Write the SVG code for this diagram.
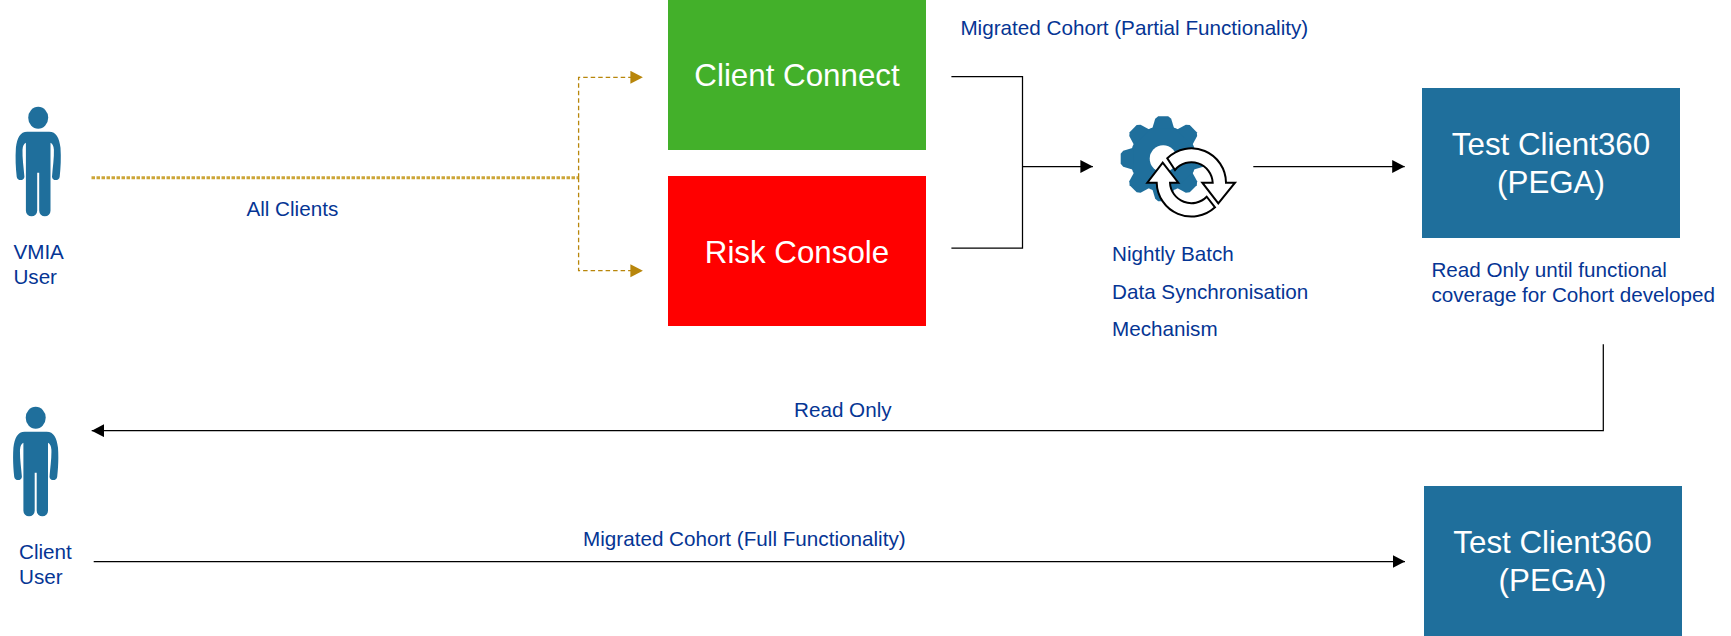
<svg xmlns="http://www.w3.org/2000/svg" width="1731" height="636" viewBox="0 0 1731 636">
<style>
text{font-family:"Liberation Sans",Arial,sans-serif}
.l{font-size:20.67px;fill:#053594}
.b{font-size:31.3px;fill:#fff;text-anchor:middle}
.blue{fill:#1F6F9C}
.c{fill:none;stroke:#000;stroke-width:1.25}
.g{fill:none;stroke:#B8860B;stroke-width:1.3;stroke-dasharray:4.5 3}
.gt{fill:none;stroke:#CDA638;stroke-width:3;stroke-dasharray:3.5 1.5}
.r{fill:#fff;stroke:#000;stroke-width:2;stroke-linejoin:miter}
</style>
<defs>
<marker id="ak" markerUnits="userSpaceOnUse" markerWidth="14" markerHeight="14" refX="12.5" refY="6.5" orient="auto"><path d="M0,0L12.5,6.5L0,13Z" fill="#000"/></marker>
<marker id="ag" markerUnits="userSpaceOnUse" markerWidth="14" markerHeight="14" refX="12.5" refY="6.5" orient="auto"><path d="M0,0L12.5,6.5L0,13Z" fill="#B8860B"/></marker>
<g id="person" class="blue">
<ellipse cx="0" cy="0" rx="10" ry="11"/>
<path d="M-11,14H11C18,14 21,20 22.3,30C23,40 22.5,50 21.5,59C21,63.5 14,63.5 13.8,59C14.5,50 16,40 15.7,32C15.3,28 14.5,26 12.3,25V93A5.6,5.6 0 0 1 1,93V55H-1V93A5.6,5.6 0 0 1 -12.3,93V25C-14.5,26 -15.3,28 -15.7,32C-16,40 -14.5,50 -13.8,59C-14,63.5 -21,63.5 -21.5,59C-22.5,50 -23,40 -22.3,30C-21,20 -18,14 -11,14Z"/>
</g>
<polygon id="tooth" points="-11,-30 -8,-40 -5,-42.5 5,-42.5 8,-40 11,-30"/>
</defs>
<g id="connectors">
<path class="gt" d="M91.5,177.7H578.6"/>
<path class="g" d="M578.6,177.7V77.3H642.9" marker-end="url(#ag)"/>
<path class="g" d="M578.6,177.7V270.7H642.9" marker-end="url(#ag)"/>
<path class="c" d="M951.4,76.5H1022.5V248H951.4"/>
<path class="c" d="M1022.5,166.5H1092.9" marker-end="url(#ak)"/>
<path class="c" d="M1253.3,166.5H1404.7" marker-end="url(#ak)"/>
<path class="c" d="M1603.3,344.3V430.7H91.7" marker-end="url(#ak)"/>
<path class="c" d="M93.7,561.5H1405" marker-end="url(#ak)"/>
</g>
<g id="vmia-user">
<use href="#person" x="38.2" y="117.7"/>
<text class="l" x="13.4" y="259">VMIA</text>
<text class="l" x="13.4" y="284">User</text>
</g>
<g id="client-user">
<use href="#person" x="35.7" y="417.7"/>
<text class="l" x="19" y="559">Client</text>
<text class="l" x="19" y="584">User</text>
</g>
<g id="client-connect">
<rect x="668" y="0" width="258" height="150" fill="#43B02A"/>
<text class="b" x="797" y="86.3">Client Connect</text>
</g>
<g id="risk-console">
<rect x="668" y="176" width="258" height="150" fill="#FF0000"/>
<text class="b" x="797" y="263">Risk Console</text>
</g>
<g id="batch">
<g class="blue" transform="translate(1163.2,158.7)">
<circle r="33"/>
<use href="#tooth"/>
<use href="#tooth" transform="rotate(45)"/>
<use href="#tooth" transform="rotate(90)"/>
<use href="#tooth" transform="rotate(135)"/>
<use href="#tooth" transform="rotate(180)"/>
<use href="#tooth" transform="rotate(225)"/>
<use href="#tooth" transform="rotate(270)"/>
<use href="#tooth" transform="rotate(315)"/>
<circle r="13.5" fill="#fff"/>
</g>
<path class="r" d="M1167.3,158.3A34.5,34.5 0 0 1 1226,182.7H1235L1218.3,203.3L1202.3,182.7H1212.7A21.3,21.3 0 0 0 1175,170Z"/>
<path class="r" d="M1156.7,182.7A34.7,34.7 0 0 0 1215,207.3L1206.7,196.7A21.4,21.4 0 0 1 1170,182.7H1178.3L1162.7,162.7L1147.3,182.7Z"/>
<text class="l" x="1112" y="261.3">Nightly Batch</text>
<text class="l" x="1112" y="299.2">Data Synchronisation</text>
<text class="l" x="1112" y="336">Mechanism</text>
</g>
<g id="test-client360-a">
<rect class="blue" x="1422" y="88" width="258" height="150"/>
<text class="b" x="1551" y="155.2">Test Client360</text>
<text class="b" x="1551" y="193.2">(PEGA)</text>
<text class="l" x="1431.4" y="277">Read Only until functional</text>
<text class="l" x="1431.4" y="302">coverage for Cohort developed</text>
</g>
<g id="test-client360-b">
<rect class="blue" x="1424" y="486" width="258" height="150"/>
<text class="b" x="1552.5" y="553">Test Client360</text>
<text class="b" x="1552.5" y="591.3">(PEGA)</text>
</g>
<g id="labels">
<text class="l" x="960.4" y="35">Migrated Cohort (Partial Functionality)</text>
<text class="l" x="246.4" y="216">All Clients</text>
<text class="l" x="794" y="417">Read Only</text>
<text class="l" x="583" y="546">Migrated Cohort (Full Functionality)</text>
</g>
</svg>
